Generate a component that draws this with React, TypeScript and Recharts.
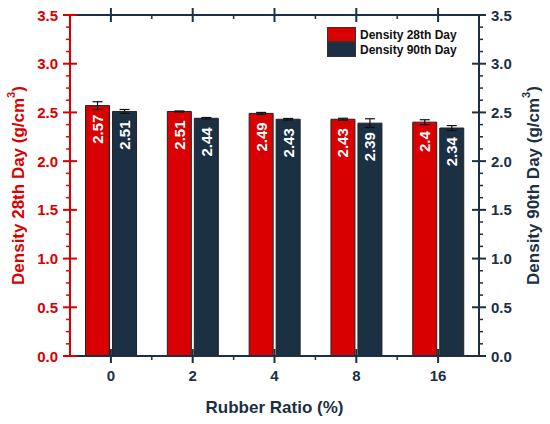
import React from 'react';
import { BarChart, Bar, XAxis, YAxis, ErrorBar, LabelList, Legend, Label } from 'recharts';

const categories = ['0', '2', '4', '8', '16'];
const density28 = [2.57, 2.51, 2.49, 2.43, 2.4];
const density90 = [2.51, 2.44, 2.43, 2.39, 2.34];
const err28 = [0.04, 0.005, 0.01, 0.01, 0.025];
const err90 = [0.02, 0.008, 0.008, 0.045, 0.025];
const majorTicks = [0, 0.5, 1.0, 1.5, 2.0, 2.5, 3.0, 3.5];

const RED = '#d80000';
const NAVY = '#1b3043';
const FONT = '"Liberation Sans", Arial, sans-serif';

// majors plus 3 minor ticks in each interval
const allTicks = majorTicks.flatMap((m, i) =>
  i < majorTicks.length - 1 ? [m, m + 0.125, m + 0.25, m + 0.375] : [m]
);

const data = categories.map((c, i) => ({
  ratio: c,
  d28: density28[i],
  d90: density90[i],
  e28: err28[i],
  e90: err90[i],
}));

const isMajor = (v: number) => majorTicks.some(m => Math.abs(m - v) < 1e-6);

const makeYTick = (color: string, side: 'left' | 'right') => (props: any) => {
  const { x, y, payload } = props;
  const v = payload.value as number;
  const dir = side === 'left' ? -1 : 1;
  if (!isMajor(v)) {
    return <line x1={x} x2={x + dir * 4} y1={y} y2={y} stroke={color} strokeWidth={1.5} />;
  }
  return (
    <g>
      <line x1={x - 7} x2={x + 7} y1={y} y2={y} stroke={color} strokeWidth={2} />
      <text
        x={x + dir * 12}
        y={y}
        textAnchor={side === 'left' ? 'end' : 'start'}
        dominantBaseline="central"
        fill={color}
        fontFamily={FONT}
        fontWeight="bold"
        fontSize={15}
      >
        {v.toFixed(1)}
      </text>
    </g>
  );
};

const makeXTick = (side: 'top' | 'bottom') => (props: any) => {
  const { x, payload, index } = props;
  const y = side === 'bottom' ? props.y : 15;
  const off = payload.offset || 0;
  return (
    <g>
      <line x1={x} x2={x} y1={y - 7} y2={y + 7} stroke={NAVY} strokeWidth={2} />
      {index < categories.length - 1 && (
        <line x1={x + off} x2={x + off} y1={y} y2={y + 4} stroke={NAVY} strokeWidth={1.5} />
      )}
      {side === 'bottom' && (
        <text x={x} y={y + 25} textAnchor="middle" fill={NAVY} fontFamily={FONT} fontWeight="bold" fontSize={15}>
          {payload.value}
        </text>
      )}
    </g>
  );
};

const barLabel = (props: any) => {
  const { x, y, width, value } = props;
  const cx = x + width / 2;
  const ty = y + 9;
  return (
    <text
      x={cx}
      y={ty}
      transform={`rotate(-90 ${cx} ${ty})`}
      textAnchor="end"
      dominantBaseline="central"
      fill="#ffffff"
      fontFamily={FONT}
      fontWeight="bold"
      fontSize={15}
    >
      {value}
    </text>
  );
};

const yTitle = (text: string, color: string, side: 'left' | 'right') => (props: any) => {
  const { viewBox } = props;
  const cx = side === 'left' ? 18 : 533;
  const cy = viewBox.y + viewBox.height / 2;
  return (
    <text
      x={cx}
      y={cy}
      transform={`rotate(-90 ${cx} ${cy})`}
      textAnchor="middle"
      dominantBaseline="central"
      fill={color}
      fontFamily={FONT}
      fontWeight="bold"
      fontSize={17}
    >
      {text}
      <tspan dy={-7} fontSize={11}>3</tspan>
      <tspan dy={7}>)</tspan>
    </text>
  );
};

const legendContent = (props: any) => {
  const items = props.payload || [];
  return (
    <div style={{ fontFamily: FONT, fontWeight: 'bold', fontSize: 12, color: '#111' }}>
      {items.map((it: any) => (
        <div key={it.value} style={{ display: 'flex', alignItems: 'center', height: 15 }}>
          <span
            style={{
              display: 'inline-block',
              width: 27,
              height: 13,
              background: it.color,
              border: '1px solid #333',
              marginRight: 4,
            }}
          />
          {it.value}
        </div>
      ))}
    </div>
  );
};

const App: React.FC = () => {
  return (
    <div style={{ position: 'absolute', left: 0, top: 0, width: 550, height: 424, background: '#fff' }}>
      <BarChart
        width={550}
        height={424}
        data={data}
        margin={{ top: 14, right: 16, bottom: 28, left: 8 }}
        barCategoryGap="19%"
        barGap={3}
      >
        <XAxis
          dataKey="ratio"
          xAxisId="bottom"
          orientation="bottom"
          height={40}
          axisLine={{ stroke: NAVY, strokeWidth: 2 }}
          tickLine={false}
          tickSize={0}
          tickMargin={0}
          interval={0}
          tick={makeXTick('bottom')}
        >
          <Label
            content={(p: any) => (
              <text
                x={p.viewBox.x + p.viewBox.width / 2}
                y={413}
                textAnchor="middle"
                fill={NAVY}
                fontFamily={FONT}
                fontWeight="bold"
                fontSize={17}
              >
                Rubber Ratio (%)
              </text>
            )}
          />
        </XAxis>
        <XAxis
          dataKey="ratio"
          xAxisId="top"
          orientation="top"
          height={1}
          axisLine={{ stroke: NAVY, strokeWidth: 2 }}
          tickLine={false}
          tickSize={0}
          tickMargin={0}
          interval={0}
          tick={makeXTick('top')}
        />
        <YAxis
          yAxisId="left"
          orientation="left"
          width={62}
          domain={[0, 3.5]}
          ticks={allTicks}
          interval={0}
          axisLine={{ stroke: RED, strokeWidth: 2 }}
          tickLine={false}
          tickSize={0}
          tickMargin={0}
          tick={makeYTick(RED, 'left')}
        >
          <Label content={yTitle('Density 28th Day (g/cm', RED, 'left')} />
        </YAxis>
        <YAxis
          yAxisId="right"
          orientation="right"
          width={55}
          domain={[0, 3.5]}
          ticks={allTicks}
          interval={0}
          axisLine={{ stroke: NAVY, strokeWidth: 2 }}
          tickLine={false}
          tickSize={0}
          tickMargin={0}
          tick={makeYTick(NAVY, 'right')}
        >
          <Label content={yTitle('Density 90th Day (g/cm', NAVY, 'right')} />
        </YAxis>
        <Legend
          layout="horizontal"
          align="center"
          verticalAlign="middle"
          content={legendContent}
          wrapperStyle={{ top: 27, left: 327, width: 150, height: 32 }}
        />
        <Bar
          dataKey="d28"
          name="Density 28th Day"
          xAxisId="bottom"
          yAxisId="left"
          fill={RED}
          stroke="#222"
          strokeWidth={1}
          isAnimationActive={false}
        >
          <LabelList dataKey="d28" content={barLabel} />
          <ErrorBar dataKey="e28" width={5} stroke="#111" strokeWidth={1.2} />
        </Bar>
        <Bar
          dataKey="d90"
          name="Density 90th Day"
          xAxisId="bottom"
          yAxisId="right"
          fill={NAVY}
          stroke="#222"
          strokeWidth={1}
          isAnimationActive={false}
        >
          <LabelList dataKey="d90" content={barLabel} />
          <ErrorBar dataKey="e90" width={5} stroke="#111" strokeWidth={1.2} />
        </Bar>
      </BarChart>
    </div>
  );
};

export default App;
